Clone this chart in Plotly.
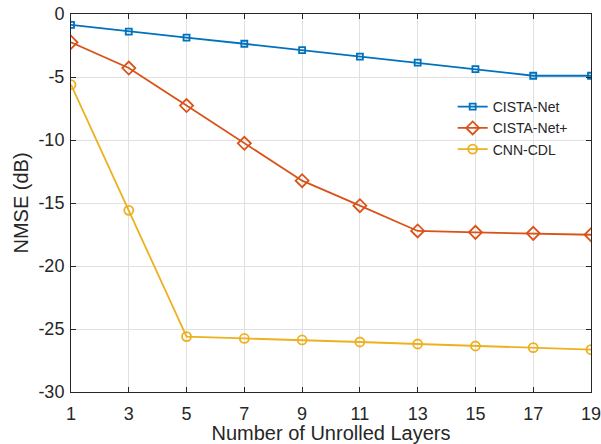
import plotly.graph_objects as go

layers = [1, 3, 5, 7, 9, 11, 13, 15, 17, 19]
cista_net = [-0.87, -1.4, -1.88, -2.36, -2.86, -3.39, -3.86, -4.37, -4.9, -4.9]
cista_net_plus = [-2.25, -4.29, -7.27, -10.26, -13.23, -15.21, -17.22, -17.33, -17.41, -17.52]
cnn_cdl = [-5.61, -15.58, -25.6, -25.75, -25.87, -26.03, -26.19, -26.35, -26.48, -26.64]
y_ticks = [0, -5, -10, -15, -20, -25, -30]
y_tick_labels = ["0", "-5", "-10", "-15", "-20", "-25", "-30"]
x_tick_labels = [str(v) for v in layers]

font = "Liberation Sans, Arial, Helvetica, sans-serif"
ink = "#262626"

fig = go.Figure()
fig.add_trace(go.Scatter(x=layers, y=cista_net, name="CISTA-Net", mode="lines+markers",
                         line=dict(color="#0072BD", width=1.8),
                         marker=dict(symbol="square-open", size=6, line=dict(width=1.8, color="#0072BD"))))
fig.add_trace(go.Scatter(x=layers, y=cista_net_plus, name="CISTA-Net+", mode="lines+markers",
                         line=dict(color="#D95319", width=1.8),
                         marker=dict(symbol="diamond-open", size=10, line=dict(width=1.8, color="#D95319"))))
fig.add_trace(go.Scatter(x=layers, y=cnn_cdl, name="CNN-CDL", mode="lines+markers",
                         line=dict(color="#EDB120", width=1.8),
                         marker=dict(symbol="circle-open", size=9, line=dict(width=1.8, color="#EDB120"))))

axis_common = dict(showline=True, linecolor=ink, linewidth=1, mirror="ticks",
                   ticks="inside", ticklen=5, tickcolor=ink, automargin=False,
                   ticklabeloverflow="allow",
                   showgrid=True, gridcolor="#e0e0e0", gridwidth=1, zeroline=False,
                   tickfont=dict(family=font, size=18, color=ink))

fig.update_layout(
    width=601, height=444,
    margin=dict(l=71, r=10, t=14, b=52),
    paper_bgcolor="white", plot_bgcolor="white",
    font=dict(family=font, color=ink),
    xaxis=dict(range=[1, 19], tickvals=layers, ticktext=x_tick_labels, ticklabelstandoff=5,
               title=dict(text="Number of Unrolled Layers", font=dict(family=font, size=20, color=ink), standoff=2),
               **axis_common),
    yaxis=dict(range=[-30, 0], tickvals=y_ticks, ticktext=y_tick_labels, ticklabelstandoff=2,
               title=dict(text="NMSE (dB)", font=dict(family=font, size=20, color=ink), standoff=4),
               **axis_common),
    legend=dict(x=0.734, y=0.796, xanchor="left", yanchor="top",
                bgcolor="rgba(255,255,255,0)", borderwidth=0,
                font=dict(family=font, size=14, color=ink),
                tracegroupgap=0, itemwidth=30),
    showlegend=True,
)

fig.write_html("out.html",
               config={"displayModeBar": False},
               post_script="document.body.style.margin='0';document.body.style.overflow='hidden';")
